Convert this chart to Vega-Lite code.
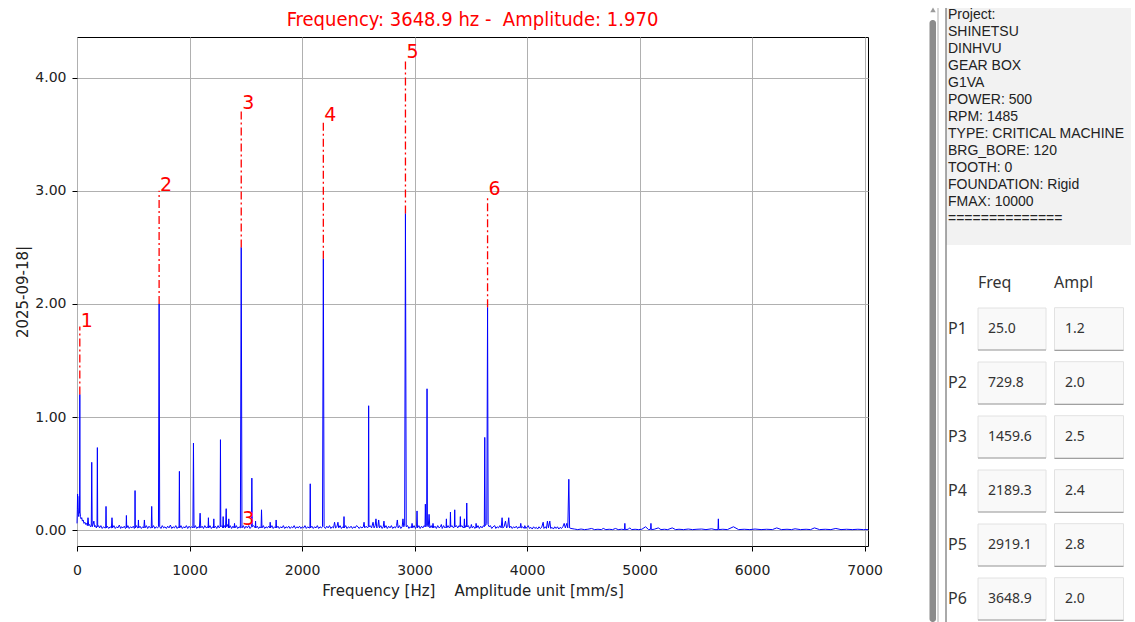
{
"$schema": "https://vega.github.io/schema/vega-lite/v6.json",
"background": "white",
"padding": {"left": 15, "top": 0, "right": 0, "bottom": 0},
"autosize": {"type": "pad"},
"bounds": "flush",
"spacing": 58,
"datasets": {
"spectrum": [
{"f":0,"a":0.06},{"f":3,"a":0.18},{"f":5,"a":0.32},{"f":8,"a":0.2},{"f":12,"a":0.14},{"f":16,"a":0.12},{"f":20,"a":0.3},{"f":23,"a":0.15},{"f":25,"a":1.2},{"f":27,"a":0.16},{"f":31,"a":0.12},{"f":36,"a":0.1},{"f":42,"a":0.11},{"f":48,"a":0.08},{"f":55,"a":0.09},{"f":62,"a":0.06},{"f":70,"a":0.07},{"f":78,"a":0.05},{"f":86,"a":0.06},{"f":92,"a":0.04},{"f":98,"a":0.11},{"f":104,"a":0.04},{"f":112,"a":0.05},{"f":120,"a":0.03},{"f":127,"a":0.04},{"f":131,"a":0.6},{"f":135,"a":0.03},{"f":142,"a":0.05},{"f":150,"a":0.08},{"f":156,"a":0.03},{"f":164,"a":0.04},{"f":172,"a":0.02},{"f":178,"a":0.04},{"f":181,"a":0.73},{"f":184,"a":0.03},{"f":192,"a":0.04},
{"f":200,"a":0.02},{"f":212,"a":0.04},{"f":224,"a":0.015},{"f":236,"a":0.03},{"f":248,"a":0.02},{"f":255,"a":0.02},{"f":258,"a":0.21},{"f":261,"a":0.02},{"f":270,"a":0.035},{"f":282,"a":0.015},{"f":294,"a":0.03},
{"f":306,"a":0.02},{"f":311,"a":0.11},{"f":316,"a":0.02},{"f":328,"a":0.04},{"f":340,"a":0.015},{"f":352,"a":0.03},{"f":364,"a":0.02},{"f":376,"a":0.045},{"f":388,"a":0.015},{"f":396,"a":0.03},
{"f":408,"a":0.02},{"f":420,"a":0.035},{"f":430,"a":0.015},{"f":436,"a":0.02},{"f":439,"a":0.13},{"f":442,"a":0.02},{"f":452,"a":0.04},{"f":464,"a":0.015},{"f":476,"a":0.03},{"f":488,"a":0.02},
{"f":500,"a":0.035},{"f":510,"a":0.015},{"f":514,"a":0.02},{"f":516,"a":0.35},{"f":518,"a":0.02},{"f":528,"a":0.04},{"f":538,"a":0.02},{"f":543,"a":0.02},{"f":546,"a":0.09},{"f":549,"a":0.02},{"f":560,"a":0.035},{"f":572,"a":0.015},{"f":584,"a":0.03},{"f":594,"a":0.02},{"f":599,"a":0.09},{"f":604,"a":0.02},
{"f":616,"a":0.04},{"f":628,"a":0.015},{"f":640,"a":0.035},{"f":652,"a":0.02},{"f":660,"a":0.02},{"f":664,"a":0.21},{"f":668,"a":0.02},{"f":680,"a":0.04},{"f":692,"a":0.015},{"f":704,"a":0.03},{"f":716,"a":0.02},{"f":724,"a":0.03},{"f":729.8,"a":2.0},{"f":735,"a":0.03},{"f":746,"a":0.015},{"f":758,"a":0.04},{"f":770,"a":0.02},{"f":782,"a":0.03},{"f":794,"a":0.015},
{"f":806,"a":0.035},{"f":818,"a":0.02},{"f":830,"a":0.045},{"f":842,"a":0.015},{"f":854,"a":0.03},{"f":866,"a":0.02},{"f":878,"a":0.04},{"f":890,"a":0.015},{"f":902,"a":0.03},{"f":907,"a":0.02},{"f":910,"a":0.52},{"f":913,"a":0.02},
{"f":924,"a":0.04},{"f":936,"a":0.015},{"f":948,"a":0.03},{"f":960,"a":0.02},{"f":972,"a":0.04},{"f":984,"a":0.015},{"f":996,"a":0.035},{"f":1008,"a":0.02},{"f":1020,"a":0.03},{"f":1030,"a":0.02},{"f":1035,"a":0.77},{"f":1040,"a":0.02},{"f":1052,"a":0.04},{"f":1064,"a":0.015},{"f":1076,"a":0.03},{"f":1088,"a":0.02},{"f":1094,"a":0.15},{"f":1100,"a":0.02},{"f":1112,"a":0.035},{"f":1124,"a":0.015},{"f":1136,"a":0.04},{"f":1148,"a":0.02},{"f":1160,"a":0.03},{"f":1165,"a":0.02},{"f":1168,"a":0.11},{"f":1171,"a":0.02},{"f":1182,"a":0.04},{"f":1194,"a":0.015},{"f":1206,"a":0.03},{"f":1213,"a":0.02},{"f":1216,"a":0.1},{"f":1219,"a":0.02},{"f":1230,"a":0.035},{"f":1242,"a":0.015},{"f":1254,"a":0.04},{"f":1264,"a":0.02},{"f":1272,"a":0.03},{"f":1275,"a":0.8},{"f":1278,"a":0.03},{"f":1288,"a":0.04},{"f":1296,"a":0.02},{"f":1299,"a":0.12},{"f":1302,"a":0.02},{"f":1312,"a":0.04},{"f":1320,"a":0.02},{"f":1326,"a":0.19},{"f":1330,"a":0.03},{"f":1340,"a":0.05},{"f":1346,"a":0.02},{"f":1349,"a":0.1},{"f":1352,"a":0.02},{"f":1362,"a":0.04},{"f":1374,"a":0.015},{"f":1386,"a":0.035},{"f":1396,"a":0.02},{"f":1400,"a":0.06},{"f":1404,"a":0.02},{"f":1416,"a":0.04},{"f":1428,"a":0.015},{"f":1440,"a":0.03},{"f":1452,"a":0.02},{"f":1459.6,"a":2.5},{"f":1466,"a":0.02},{"f":1478,"a":0.04},{"f":1490,"a":0.015},{"f":1502,"a":0.035},{"f":1514,"a":0.02},{"f":1526,"a":0.04},{"f":1538,"a":0.015},{"f":1550,"a":0.03},{"f":1554,"a":0.46},{"f":1558,"a":0.03},{"f":1570,"a":0.04},{"f":1584,"a":0.02},{"f":1587,"a":0.08},{"f":1590,"a":0.02},{"f":1602,"a":0.035},{"f":1614,"a":0.015},{"f":1626,"a":0.03},{"f":1636,"a":0.02},{"f":1640,"a":0.18},{"f":1644,"a":0.02},{"f":1656,"a":0.04},{"f":1668,"a":0.015},{"f":1680,"a":0.03},{"f":1692,"a":0.02},{"f":1704,"a":0.035},{"f":1714,"a":0.02},{"f":1717,"a":0.07},{"f":1720,"a":0.02},{"f":1732,"a":0.04},{"f":1744,"a":0.015},{"f":1756,"a":0.03},{"f":1766,"a":0.02},{"f":1770,"a":0.09},{"f":1774,"a":0.02},{"f":1786,"a":0.035},{"f":1798,"a":0.015},{"f":1810,"a":0.03},{"f":1822,"a":0.02},{"f":1834,"a":0.04},{"f":1846,"a":0.015},{"f":1858,"a":0.03},{"f":1870,"a":0.02},{"f":1882,"a":0.035},{"f":1894,"a":0.015},{"f":1906,"a":0.03},{"f":1918,"a":0.02},{"f":1930,"a":0.04},{"f":1942,"a":0.015},{"f":1954,"a":0.03},{"f":1966,"a":0.02},{"f":1978,"a":0.035},{"f":1990,"a":0.015},{"f":2002,"a":0.03},{"f":2014,"a":0.02},{"f":2026,"a":0.04},{"f":2038,"a":0.015},{"f":2050,"a":0.03},{"f":2062,"a":0.02},{"f":2070,"a":0.02},{"f":2073,"a":0.41},{"f":2076,"a":0.02},{"f":2088,"a":0.035},{"f":2100,"a":0.015},{"f":2112,"a":0.03},{"f":2124,"a":0.02},{"f":2136,"a":0.04},{"f":2148,"a":0.015},{"f":2160,"a":0.03},{"f":2172,"a":0.02},{"f":2182,"a":0.03},{"f":2189.3,"a":2.4},{"f":2196,"a":0.03},{"f":2208,"a":0.015},{"f":2220,"a":0.035},{"f":2232,"a":0.02},{"f":2244,"a":0.04},{"f":2256,"a":0.015},{"f":2268,"a":0.03},{"f":2280,"a":0.02},{"f":2289,"a":0.07},{"f":2298,"a":0.02},{"f":2310,"a":0.03},{"f":2319,"a":0.07},{"f":2326,"a":0.02},{"f":2338,"a":0.04},{"f":2350,"a":0.015},{"f":2362,"a":0.03},{"f":2370,"a":0.02},{"f":2373,"a":0.12},{"f":2376,"a":0.02},{"f":2388,"a":0.04},{"f":2400,"a":0.015},{"f":2412,"a":0.03},{"f":2424,"a":0.02},{"f":2436,"a":0.035},{"f":2448,"a":0.015},{"f":2460,"a":0.03},{"f":2472,"a":0.02},{"f":2484,"a":0.04},{"f":2497,"a":0.03},{"f":2508,"a":0.015},{"f":2520,"a":0.03},{"f":2532,"a":0.02},{"f":2545,"a":0.03},{"f":2551,"a":0.07},{"f":2557,"a":0.02},{"f":2570,"a":0.035},{"f":2582,"a":0.02},{"f":2589,"a":0.03},{"f":2592,"a":1.1},{"f":2595,"a":0.03},{"f":2606,"a":0.04},{"f":2618,"a":0.02},{"f":2631,"a":0.07},{"f":2640,"a":0.02},{"f":2650,"a":0.04},{"f":2657,"a":0.1},{"f":2664,"a":0.02},{"f":2674,"a":0.03},{"f":2681,"a":0.09},{"f":2688,"a":0.02},{"f":2700,"a":0.04},{"f":2712,"a":0.015},{"f":2722,"a":0.03},{"f":2728,"a":0.08},{"f":2734,"a":0.02},{"f":2746,"a":0.04},{"f":2758,"a":0.015},{"f":2770,"a":0.035},{"f":2782,"a":0.02},{"f":2794,"a":0.04},{"f":2806,"a":0.015},{"f":2818,"a":0.03},{"f":2830,"a":0.02},{"f":2840,"a":0.04},{"f":2847,"a":0.09},{"f":2854,"a":0.02},{"f":2866,"a":0.04},{"f":2878,"a":0.015},{"f":2890,"a":0.03},{"f":2897,"a":0.1},{"f":2904,"a":0.03},{"f":2912,"a":0.04},{"f":2919.1,"a":2.8},{"f":2926,"a":0.03},{"f":2938,"a":0.04},{"f":2950,"a":0.015},{"f":2962,"a":0.03},{"f":2972,"a":0.02},{"f":2978,"a":0.06},{"f":2984,"a":0.02},{"f":2996,"a":0.04},{"f":3008,"a":0.015},{"f":3018,"a":0.03},{"f":3022,"a":0.17},{"f":3026,"a":0.02},{"f":3038,"a":0.04},{"f":3050,"a":0.015},{"f":3062,"a":0.035},{"f":3074,"a":0.02},{"f":3086,"a":0.04},{"f":3093,"a":0.03},{"f":3096,"a":0.23},{"f":3100,"a":0.03},{"f":3108,"a":0.04},{"f":3111,"a":1.25},{"f":3114,"a":0.04},{"f":3122,"a":0.03},{"f":3129,"a":0.14},{"f":3136,"a":0.02},{"f":3148,"a":0.04},{"f":3158,"a":0.02},{"f":3164,"a":0.06},{"f":3170,"a":0.02},{"f":3182,"a":0.035},{"f":3194,"a":0.015},{"f":3206,"a":0.04},{"f":3218,"a":0.02},{"f":3230,"a":0.03},{"f":3238,"a":0.05},{"f":3246,"a":0.015},{"f":3258,"a":0.04},{"f":3270,"a":0.02},{"f":3280,"a":0.03},{"f":3283,"a":0.1},{"f":3286,"a":0.02},{"f":3298,"a":0.04},{"f":3310,"a":0.02},{"f":3316,"a":0.03},{"f":3319,"a":0.16},{"f":3322,"a":0.03},{"f":3334,"a":0.04},{"f":3346,"a":0.02},{"f":3354,"a":0.03},{"f":3357,"a":0.18},{"f":3360,"a":0.03},{"f":3372,"a":0.04},{"f":3384,"a":0.02},{"f":3396,"a":0.04},{"f":3404,"a":0.03},{"f":3407,"a":0.12},{"f":3410,"a":0.03},{"f":3422,"a":0.04},{"f":3432,"a":0.02},{"f":3440,"a":0.03},{"f":3443,"a":0.1},{"f":3446,"a":0.02},{"f":3456,"a":0.04},{"f":3461,"a":0.03},{"f":3464,"a":0.24},{"f":3467,"a":0.03},{"f":3478,"a":0.04},{"f":3490,"a":0.015},{"f":3500,"a":0.03},{"f":3505,"a":0.05},{"f":3512,"a":0.02},{"f":3524,"a":0.035},{"f":3536,"a":0.015},{"f":3544,"a":0.03},{"f":3547,"a":0.06},{"f":3552,"a":0.02},{"f":3564,"a":0.04},{"f":3576,"a":0.015},{"f":3588,"a":0.035},{"f":3600,"a":0.02},{"f":3612,"a":0.04},{"f":3620,"a":0.03},{"f":3624,"a":0.82},{"f":3628,"a":0.04},{"f":3636,"a":0.05},{"f":3642,"a":0.06},{"f":3648.9,"a":1.97},{"f":3654,"a":0.05},{"f":3662,"a":0.03},{"f":3674,"a":0.04},{"f":3686,"a":0.015},{"f":3698,"a":0.03},{"f":3713,"a":0.04},{"f":3722,"a":0.015},{"f":3734,"a":0.03},{"f":3746,"a":0.02},{"f":3758,"a":0.04},{"f":3770,"a":0.02},{"f":3778,"a":0.11},{"f":3784,"a":0.02},{"f":3796,"a":0.03},{"f":3808,"a":0.08},{"f":3818,"a":0.02},{"f":3828,"a":0.03},{"f":3837,"a":0.11},{"f":3844,"a":0.02},{"f":3856,"a":0.035},{"f":3868,"a":0.015},{"f":3880,"a":0.03},{"f":3892,"a":0.02},{"f":3904,"a":0.035},{"f":3916,"a":0.015},{"f":3928,"a":0.03},{"f":3938,"a":0.02},{"f":3944,"a":0.06},{"f":3950,"a":0.02},{"f":3962,"a":0.03},{"f":3974,"a":0.015},{"f":3980,"a":0.04},{"f":3990,"a":0.015},{"f":4002,"a":0.03},{"f":4010,"a":0.04},{"f":4022,"a":0.015},{"f":4034,"a":0.025},{"f":4046,"a":0.01},{"f":4058,"a":0.03},{"f":4070,"a":0.015},{"f":4082,"a":0.025},{"f":4094,"a":0.01},{"f":4106,"a":0.03},{"f":4118,"a":0.015},{"f":4130,"a":0.025},{"f":4143,"a":0.07},{"f":4150,"a":0.015},{"f":4162,"a":0.03},{"f":4172,"a":0.015},{"f":4181,"a":0.08},{"f":4190,"a":0.02},{"f":4202,"a":0.08},{"f":4210,"a":0.015},{"f":4222,"a":0.025},{"f":4234,"a":0.01},{"f":4246,"a":0.03},{"f":4258,"a":0.015},{"f":4270,"a":0.03},{"f":4282,"a":0.01},{"f":4294,"a":0.025},{"f":4306,"a":0.015},{"f":4318,"a":0.03},{"f":4330,"a":0.06},{"f":4340,"a":0.02},{"f":4353,"a":0.06},{"f":4362,"a":0.02},{"f":4371,"a":0.45},{"f":4378,"a":0.02},{"f":4390,"a":0.015},
{"f":4420,"a":0.01},{"f":4450,"a":0.005},{"f":4480,"a":0.01},{"f":4510,"a":0.005},{"f":4540,"a":0.008},{"f":4573,"a":0.015},{"f":4600,"a":0.005},{"f":4630,"a":0.008},{"f":4660,"a":0.005},{"f":4677,"a":0.015},{"f":4700,"a":0.005},{"f":4730,"a":0.008},{"f":4760,"a":0.005},{"f":4786,"a":0.015},{"f":4810,"a":0.005},{"f":4840,"a":0.008},{"f":4866,"a":0.005},{"f":4869,"a":0.06},{"f":4872,"a":0.005},{"f":4900,"a":0.008},{"f":4911,"a":0.02},{"f":4930,"a":0.005},{"f":4960,"a":0.008},{"f":4990,"a":0.005},{"f":5020,"a":0.008},{"f":5053,"a":0.03},{"f":5080,"a":0.005},{"f":5098,"a":0.008},{"f":5101,"a":0.06},{"f":5104,"a":0.005},{"f":5130,"a":0.008},{"f":5166,"a":0.02},{"f":5190,"a":0.005},{"f":5220,"a":0.008},{"f":5250,"a":0.005},{"f":5290,"a":0.02},{"f":5320,"a":0.005},{"f":5350,"a":0.008},{"f":5390,"a":0.005},{"f":5433,"a":0.01},{"f":5470,"a":0.005},{"f":5510,"a":0.008},{"f":5552,"a":0.01},{"f":5590,"a":0.005},{"f":5641,"a":0.012},{"f":5670,"a":0.005},{"f":5697,"a":0.005},{"f":5700,"a":0.1},{"f":5703,"a":0.005},{"f":5740,"a":0.008},{"f":5780,"a":0.005},{"f":5834,"a":0.03},{"f":5880,"a":0.005},{"f":5930,"a":0.008},{"f":5980,"a":0.005},{"f":6026,"a":0.01},{"f":6080,"a":0.005},{"f":6130,"a":0.008},{"f":6180,"a":0.005},{"f":6219,"a":0.02},{"f":6260,"a":0.005},{"f":6310,"a":0.008},{"f":6350,"a":0.005},{"f":6382,"a":0.012},{"f":6430,"a":0.005},{"f":6480,"a":0.008},{"f":6520,"a":0.005},{"f":6554,"a":0.02},{"f":6600,"a":0.005},{"f":6650,"a":0.008},{"f":6700,"a":0.005},{"f":6744,"a":0.015},{"f":6790,"a":0.005},{"f":6840,"a":0.008},{"f":6890,"a":0.005},{"f":6940,"a":0.008},{"f":6990,"a":0.005},{"f":7030,"a":0.005}
],
"peaks": [
{"f":25,"a":1.2,"top":1.8},{"f":729.8,"a":2.0,"top":3.0},{"f":1459.6,"a":2.5,"top":3.72},{"f":2189.3,"a":2.4,"top":3.62},{"f":2919.1,"a":2.8,"top":4.17},{"f":3648.9,"a":1.97,"top":2.96}
],
"labels": [
{"f":25,"y":1.8,"n":"1"},{"f":729.8,"y":3.0,"n":"2"},{"f":1459.6,"y":3.72,"n":"3"},{"f":2189.3,"y":3.62,"n":"4"},{"f":2919.1,"y":4.17,"n":"5"},{"f":3648.9,"y":2.96,"n":"6"},{"f":1459.6,"y":0.045,"n":"3"}
],
"info": [
{"line":1,"t":"Project:"},{"line":2,"t":"SHINETSU"},{"line":3,"t":"DINHVU"},{"line":4,"t":"GEAR BOX"},{"line":5,"t":"G1VA"},{"line":6,"t":"POWER: 500"},{"line":7,"t":"RPM: 1485"},{"line":8,"t":"TYPE: CRITICAL MACHINE"},{"line":9,"t":"BRG_BORE: 120"},{"line":10,"t":"TOOTH: 0"},{"line":11,"t":"FOUNDATION: Rigid"},{"line":12,"t":"FMAX: 10000"},{"line":13,"t":"=============="}
],
"table": [
{"p":"P1","freq":"25.0","ampl":"1.2","r":1},{"p":"P2","freq":"729.8","ampl":"2.0","r":2},{"p":"P3","freq":"1459.6","ampl":"2.5","r":3},{"p":"P4","freq":"2189.3","ampl":"2.4","r":4},{"p":"P5","freq":"2919.1","ampl":"2.8","r":5},{"p":"P6","freq":"3648.9","ampl":"2.0","r":6}
]
},
"hconcat": [
{
"width": 791,
"height": 509,
"view": {"stroke": "#000000", "strokeWidth": 1},
"title": {"text": "Frequency: 3648.9 hz -\u00a0 Amplitude: 1.970", "color": "#ff0000", "font": "DejaVu Sans Condensed, DejaVu Sans", "fontSize": 20, "fontWeight": "normal", "anchor": "middle", "baseline": "alphabetic", "offset": -9},
"layer": [
{
"data": {"name": "spectrum"},
"mark": {"type": "line", "color": "#0000ff", "strokeWidth": 1},
"encoding": {
"x": {"field": "f", "type": "quantitative", "scale": {"domain": [0, 7030], "nice": false, "zero": false},
"axis": {"title": "Frequency [Hz]\u00a0\u00a0\u00a0 Amplitude unit [mm/s]", "values": [0,1000,2000,3000,4000,5000,6000,7000], "format": "d", "grid": true, "gridColor": "#b0b0b0", "gridWidth": 1, "domain": false, "tickColor": "#000000", "tickSize": 5, "labelFlush": false, "labelOverlap": false, "labelPadding": 12, "labelFont": "DejaVu Sans", "labelFontSize": 14, "labelColor": "#222222", "titleFont": "DejaVu Sans", "titleFontSize": 15, "titleFontWeight": "normal", "titleColor": "#222222", "titlePadding": 6}},
"y": {"field": "a", "type": "quantitative", "scale": {"domain": [-0.14, 4.36], "nice": false, "zero": false},
"axis": {"title": "2025-09-18|", "values": [0,1,2,3,4], "format": ".2f", "grid": true, "gridColor": "#b0b0b0", "gridWidth": 1, "domain": false, "tickColor": "#000000", "tickSize": 5, "labelFlush": false, "labelOverlap": false, "labelPadding": 6, "labelFont": "DejaVu Sans", "labelFontSize": 14, "labelColor": "#222222", "titleFont": "DejaVu Sans", "titleFontSize": 15, "titleFontWeight": "normal", "titleColor": "#222222", "titlePadding": 4}}
}
},
{
"data": {"name": "peaks"},
"mark": {"type": "rule", "color": "#ff0000", "strokeWidth": 1.3, "strokeDash": [8, 3, 2, 3]},
"encoding": {
"x": {"field": "f", "type": "quantitative"},
"y": {"field": "a", "type": "quantitative"},
"y2": {"field": "top"}
}
},
{
"data": {"name": "labels"},
"mark": {"type": "text", "color": "#ff0000", "font": "DejaVu Sans", "fontSize": 19, "align": "left", "baseline": "alphabetic", "dx": 1},
"encoding": {
"x": {"field": "f", "type": "quantitative"},
"y": {"field": "y", "type": "quantitative"},
"text": {"field": "n"}
}
}
]
},
{
"width": 210,
"height": 585,
"view": {"stroke": null},
"resolve": {"scale": {"y": "independent"}},
"layer": [
{
"data": {"values": [{"k": "track"}]},
"mark": {"type": "rect", "fill": "#ffffff"},
"encoding": {
"x": {"datum": 0, "type": "quantitative", "scale": {"domain": [0, 210], "nice": false, "zero": false}, "axis": null},
"x2": {"datum": 15},
"y": {"datum": 0.1176, "type": "quantitative", "scale": {"domain": [2.294, 36.706], "reverse": true, "nice": false, "zero": false}, "axis": null},
"y2": {"datum": 36.706}
}
},
{
"data": {"values": [{"k": "infobg"}]},
"mark": {"type": "rect", "fill": "#f2f2f2"},
"encoding": {
"x": {"datum": 20, "type": "quantitative", "scale": {"domain": [0, 210], "nice": false, "zero": false}, "axis": null},
"x2": {"datum": 205},
"y": {"datum": 0.588, "type": "quantitative", "scale": {"domain": [2.294, 36.706], "reverse": true, "nice": false, "zero": false}, "axis": null},
"y2": {"datum": 14.53}
}
},
{
"data": {"values": [{"k": "bar"}]},
"mark": {"type": "rect", "fill": "#8c8c8c", "cornerRadius": 3},
"encoding": {
"x": {"datum": 3.5, "type": "quantitative", "scale": {"domain": [0, 210], "nice": false, "zero": false}, "axis": null},
"x2": {"datum": 10},
"y": {"datum": 1.3, "type": "quantitative", "scale": {"domain": [2.294, 36.706], "reverse": true, "nice": false, "zero": false}, "axis": null},
"y2": {"datum": 36.706}
}
},
{
"data": {"values": [{"k": "arrow"}]},
"mark": {"type": "point", "shape": "triangle-up", "filled": true, "color": "#9a9a9a", "size": 30, "opacity": 1},
"encoding": {
"x": {"datum": 7, "type": "quantitative", "scale": {"domain": [0, 210], "nice": false, "zero": false}, "axis": null},
"y": {"datum": 0.7, "type": "quantitative", "scale": {"domain": [2.294, 36.706], "reverse": true, "nice": false, "zero": false}, "axis": null}
}
},
{
"data": {"values": [{"k": "edge"}]},
"mark": {"type": "rule", "color": "#c8c8c8", "strokeWidth": 1.5},
"encoding": {
"x": {"datum": 12, "type": "quantitative", "scale": {"domain": [0, 210], "nice": false, "zero": false}, "axis": null},
"y": {"datum": 0.588, "type": "quantitative", "scale": {"domain": [2.294, 36.706], "reverse": true, "nice": false, "zero": false}, "axis": null},
"y2": {"datum": 36.706}
}
},
{
"data": {"values": [{"k": "divider"}]},
"mark": {"type": "rule", "color": "#555555", "strokeWidth": 1},
"encoding": {
"x": {"datum": 20, "type": "quantitative", "scale": {"domain": [0, 210], "nice": false, "zero": false}, "axis": null},
"y": {"datum": 0.588, "type": "quantitative", "scale": {"domain": [2.294, 36.706], "reverse": true, "nice": false, "zero": false}, "axis": null},
"y2": {"datum": 36.706}
}
},
{
"data": {"name": "info"},
"mark": {"type": "text", "align": "left", "baseline": "middle", "font": "Liberation Sans", "fontSize": 14, "color": "#222222"},
"encoding": {
"x": {"datum": 22, "type": "quantitative", "scale": {"domain": [0, 210], "nice": false, "zero": false}, "axis": null},
"y": {"field": "line", "type": "quantitative", "scale": {"domain": [2.294, 36.706], "reverse": true, "nice": false, "zero": false}, "axis": null},
"text": {"field": "t"}
}
},
{
"data": {"values": [{"h": "Freq"}]},
"mark": {"type": "text", "align": "left", "baseline": "middle", "font": "Noto Sans", "fontSize": 16, "color": "#333333", "dy": 8},
"encoding": {
"x": {"datum": 52, "type": "quantitative", "scale": {"domain": [0, 210], "nice": false, "zero": false}, "axis": null},
"y": {"datum": 0, "type": "quantitative", "scale": {"domain": [-4.4074, 6.4259], "reverse": true, "nice": false, "zero": false}, "axis": null},
"text": {"field": "h"}
}
},
{
"data": {"values": [{"h": "Ampl"}]},
"mark": {"type": "text", "align": "left", "baseline": "middle", "font": "Noto Sans", "fontSize": 16, "color": "#333333", "dy": 8},
"encoding": {
"x": {"datum": 128, "type": "quantitative", "scale": {"domain": [0, 210], "nice": false, "zero": false}, "axis": null},
"y": {"datum": 0, "type": "quantitative", "scale": {"domain": [-4.4074, 6.4259], "reverse": true, "nice": false, "zero": false}, "axis": null},
"text": {"field": "h"}
}
},
{
"data": {"name": "table"},
"mark": {"type": "point", "shape": "M-1,-0.6176H1V0.6176H-1Z", "filled": true, "fill": "#f9f9f9", "stroke": "#e2e2e2", "strokeWidth": 1, "size": 4624, "opacity": 1},
"encoding": {
"x": {"datum": 86, "type": "quantitative", "scale": {"domain": [0, 210], "nice": false, "zero": false}, "axis": null},
"y": {"field": "r", "type": "quantitative", "scale": {"domain": [-4.4074, 6.4259], "reverse": true, "nice": false, "zero": false}, "axis": null}
}
},
{
"data": {"name": "table"},
"mark": {"type": "point", "shape": "M-1,-0.6176H1V0.6176H-1Z", "filled": true, "fill": "#f9f9f9", "stroke": "#e2e2e2", "strokeWidth": 1, "size": 4761, "opacity": 1},
"encoding": {
"x": {"datum": 163, "type": "quantitative", "scale": {"domain": [0, 210], "nice": false, "zero": false}, "axis": null},
"y": {"field": "r", "type": "quantitative", "scale": {"domain": [-4.4074, 6.4259], "reverse": true, "nice": false, "zero": false}, "axis": null}
}
},
{
"data": {"name": "table"},
"mark": {"type": "point", "shape": "M-1,0.6176H1", "filled": false, "stroke": "#a0a0a0", "strokeWidth": 1.2, "size": 4624, "opacity": 1},
"encoding": {
"x": {"datum": 86, "type": "quantitative", "scale": {"domain": [0, 210], "nice": false, "zero": false}, "axis": null},
"y": {"field": "r", "type": "quantitative", "scale": {"domain": [-4.4074, 6.4259], "reverse": true, "nice": false, "zero": false}, "axis": null}
}
},
{
"data": {"name": "table"},
"mark": {"type": "point", "shape": "M-1,0.6176H1", "filled": false, "stroke": "#a0a0a0", "strokeWidth": 1.2, "size": 4761, "opacity": 1},
"encoding": {
"x": {"datum": 163, "type": "quantitative", "scale": {"domain": [0, 210], "nice": false, "zero": false}, "axis": null},
"y": {"field": "r", "type": "quantitative", "scale": {"domain": [-4.4074, 6.4259], "reverse": true, "nice": false, "zero": false}, "axis": null}
}
},
{
"data": {"name": "table"},
"mark": {"type": "text", "align": "left", "baseline": "middle", "font": "Noto Sans", "fontSize": 16, "color": "#333333"},
"encoding": {
"x": {"datum": 22, "type": "quantitative", "scale": {"domain": [0, 210], "nice": false, "zero": false}, "axis": null},
"y": {"field": "r", "type": "quantitative", "scale": {"domain": [-4.4074, 6.4259], "reverse": true, "nice": false, "zero": false}, "axis": null},
"text": {"field": "p"}
}
},
{
"data": {"name": "table"},
"mark": {"type": "text", "align": "left", "baseline": "middle", "font": "Noto Sans", "fontSize": 14, "color": "#333333"},
"encoding": {
"x": {"datum": 62, "type": "quantitative", "scale": {"domain": [0, 210], "nice": false, "zero": false}, "axis": null},
"y": {"field": "r", "type": "quantitative", "scale": {"domain": [-4.4074, 6.4259], "reverse": true, "nice": false, "zero": false}, "axis": null},
"text": {"field": "freq"}
}
},
{
"data": {"name": "table"},
"mark": {"type": "text", "align": "left", "baseline": "middle", "font": "Noto Sans", "fontSize": 14, "color": "#333333"},
"encoding": {
"x": {"datum": 139, "type": "quantitative", "scale": {"domain": [0, 210], "nice": false, "zero": false}, "axis": null},
"y": {"field": "r", "type": "quantitative", "scale": {"domain": [-4.4074, 6.4259], "reverse": true, "nice": false, "zero": false}, "axis": null},
"text": {"field": "ampl"}
}
}
]
}
]
}
